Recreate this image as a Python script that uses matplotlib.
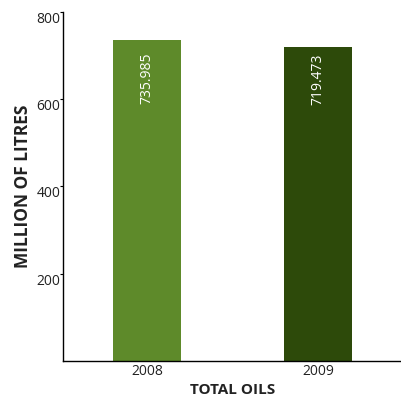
import matplotlib
matplotlib.use("Agg")
import matplotlib.pyplot as plt

years = ["2008", "2009"]
volumes = [735.985, 719.473]
value_labels = ["735.985", "719.473"]
bar_colors = ["#5e8a2a", "#2d4a0a"]
y_ticks = [200, 400, 600, 800]
label_top = 706  # data-space y where the rotated value labels start

fig = plt.figure(figsize=(4.02, 3.98), dpi=100)
ax = fig.add_axes([0.157, 0.093, 0.843, 0.877])

x = range(len(years))
bars = ax.bar(x, volumes, width=0.40, color=bar_colors, zorder=2)

for bar, txt in zip(bars, value_labels):
    ax.text(bar.get_x() + bar.get_width() / 2, min(label_top, bar.get_height() - 14), txt,
            rotation=90, ha="center", va="top", color="white",
            fontsize=10, family="Open Sans")

ax.set_xlim(-0.491, 1.491)
ax.set_ylim(0, 800)
ax.set_yticks(y_ticks)
ax.set_yticklabels([str(t) for t in y_ticks], fontsize=10, family="Open Sans",
                   color="#222222", va="top")
ax.set_xticks(list(x))
ax.set_xticklabels(years, fontsize=10, family="Open Sans", color="#222222")
ax.tick_params(axis="y", length=2, width=0.8, pad=0)
ax.tick_params(axis="x", length=0, pad=2)

for side in ("top", "right"):
    ax.spines[side].set_visible(False)
ax.spines["left"].set_linewidth(1.0)
ax.spines["bottom"].set_linewidth(1.0)

ax.set_ylabel("MILLION OF LITRES", fontsize=12.5, fontweight="bold",
              family="Open Sans", color="#222222", labelpad=3)
ax.set_xlabel("TOTAL OILS", fontsize=11, fontweight="bold",
              family="Open Sans", color="#222222", labelpad=3)

fig.savefig("out.png", dpi=100)
